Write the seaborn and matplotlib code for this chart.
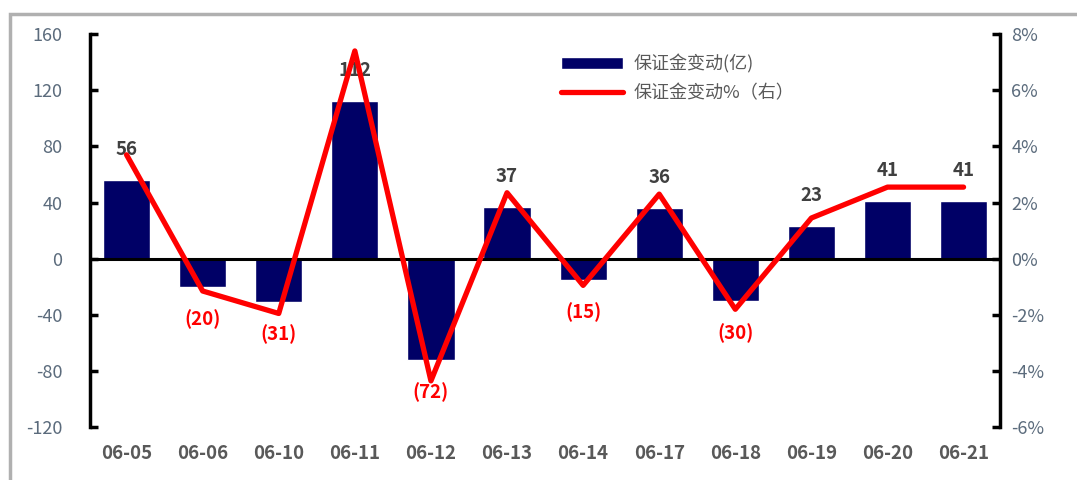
import numpy as np
import pandas as pd
import matplotlib
matplotlib.use("Agg")
import matplotlib.pyplot as plt
import seaborn as sns
from matplotlib.patches import Rectangle

# data
dates = ["06-05", "06-06", "06-10", "06-11", "06-12", "06-13",
         "06-14", "06-17", "06-18", "06-19", "06-20", "06-21"]
margin_change = [56, -20, -31, 112, -72, 37, -15, 36, -30, 23, 41, 41]
margin_pct = [3.7, -1.15, -1.95, 7.4, -4.35, 2.35, -0.95, 2.3, -1.8, 1.45, 2.55, 2.55]

bar_label = "保证金变动(亿)"
line_label = "保证金变动%（右）"

df = pd.DataFrame({"date": dates, "change": margin_change, "pct": margin_pct})
df["pos"] = np.arange(len(df))

sns.set_theme(style="white")
plt.rcParams["font.family"] = ["Noto Sans CJK SC", "DejaVu Sans"]
plt.rcParams["axes.unicode_minus"] = False

fig = plt.figure(figsize=(10.77, 4.8), dpi=100)
ax = fig.add_axes([0.0836, 0.110, 0.845, 0.819])

# outer gray frame
fig.patches.append(Rectangle((10 / 1077, -0.05), 1.1, 1 - 14 / 480 + 0.05,
                             transform=fig.transFigure, fill=False,
                             edgecolor="#b0b0b0", linewidth=2.5))

sns.barplot(data=df, x="date", y="change", color="#000066", width=0.62,
            saturation=1, ax=ax, label=bar_label)
if ax.get_legend() is not None:
    ax.get_legend().remove()
ax.set_ylim(-120, 160)
ax.set_yticks(range(-120, 161, 40))
ax.axhline(0, color="black", linewidth=2.2, zorder=3)

ax2 = ax.twinx()
sns.lineplot(data=df, x="pos", y="pct", color="#ff0000", linewidth=3.8,
             ax=ax2, label=line_label, legend=False)
ax2.set_ylim(-6, 8)
ax2.set_yticks(range(-6, 9, 2))
ax2.set_yticklabels([f"{v}%" for v in range(-6, 9, 2)])
ax.set_xlim(-0.48, len(dates) - 0.52)

for a in (ax, ax2):
    for s in ("top", "bottom"):
        a.spines[s].set_visible(False)
ax.spines["right"].set_visible(False)
ax2.spines["left"].set_visible(False)
ax.spines["left"].set_linewidth(2.5)
ax.spines["left"].set_color("black")
ax2.spines["right"].set_linewidth(2.5)
ax2.spines["right"].set_color("black")

ax.tick_params(axis="y", direction="in", length=6, width=2.5, color="black",
               labelsize=13, labelcolor="#5b6b7c", pad=20)
ax2.tick_params(axis="y", direction="in", length=6, width=2.5, color="black",
                labelsize=13, labelcolor="#5b6b7c", pad=8)
ax.tick_params(axis="x", length=0, labelsize=13.5, labelcolor="#595959", pad=12)
for t in ax.get_xticklabels():
    t.set_fontweight("bold")
ax.set_xlabel("")
ax.set_ylabel("")
ax2.set_xlabel("")
ax2.set_ylabel("")

# value labels
for i, v in enumerate(margin_change):
    if v >= 0:
        ax.annotate(f"{v}", (i, v), xytext=(0, 22), textcoords="offset points",
                    ha="center", va="center", fontsize=13.5, fontweight="bold",
                    color="#404040", zorder=5)
    else:
        ax.annotate(f"({-v})", (i, v), xytext=(0, -23), textcoords="offset points",
                    ha="center", va="center", fontsize=13.5, fontweight="bold",
                    color="#ff0000", zorder=5)

ax2.set_zorder(ax.get_zorder() + 1)
ax2.patch.set_visible(False)

h1, l1 = ax.get_legend_handles_labels()
h2, l2 = ax2.get_legend_handles_labels()
leg = ax2.legend(h1 + h2, l1 + l2, loc="upper left", bbox_to_anchor=(0.50, 0.99),
                 frameon=False, fontsize=13, handlelength=3.4, labelspacing=0.6,
                 handletextpad=0.6)
for t in leg.get_texts():
    t.set_color("#595959")

fig.savefig("out.png", dpi=100)
